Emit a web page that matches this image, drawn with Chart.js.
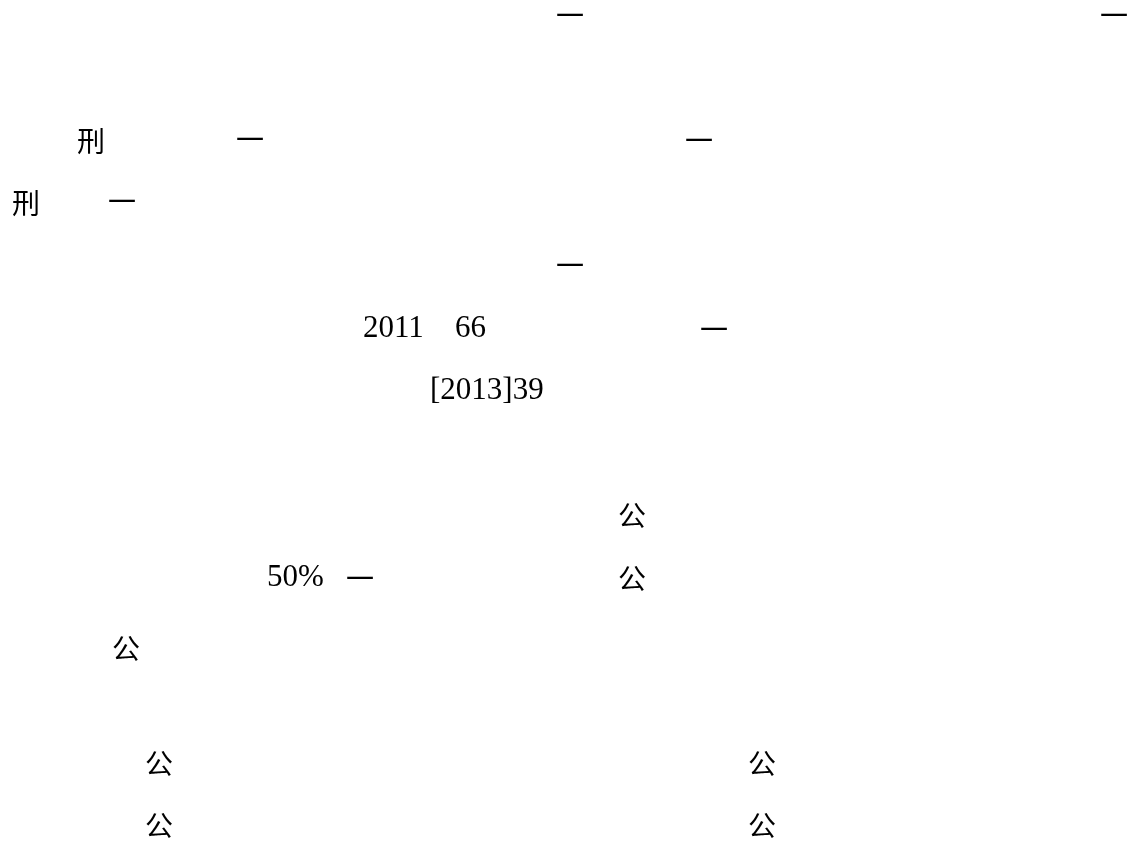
<!DOCTYPE html>
<html>
<head>
<meta charset="utf-8">
<script src="https://cdn.jsdelivr.net/npm/chart.js@4/dist/chart.umd.min.js"></script>
<style>
  html, body { margin: 0; padding: 0; background: #fff; }
  #wrap { width: 1130px; height: 847px; }
</style>
</head>
<body>
<div id="wrap"><canvas id="chartPage"></canvas></div>
<script>
// ================== DATA ================ //
// text fragments on the page, with their column (left edge) and line (middle)
const fragTexts = [
  "一", "一",
  "刑", "一", "一",
  "刑", "一",
  "一",
  "2011", "66", "一",
  "[2013]39",
  "公",
  "50%", "一", "公",
  "公",
  "公", "公",
  "公", "公",
];
const fragCols = [
  556, 1100,
  77, 236, 685,
  12, 108,
  556,
  363, 455, 700,
  430,
  618,
  267, 346, 618,
  112,
  145, 748,
  145, 748,
];
const fragLines = [
  15, 15,
  141, 139, 140,
  203, 201,
  265,
  329, 329, 329,
  391,
  515,
  578, 578, 578,
  648,
  763, 763,
  825, 825,
];

const PAGE_W = 1130;
const PAGE_H = 847;

// ================== TEXT PLUGIN ================ //
const fragLabelPlugin = {
  id: "fragLabels",
  afterDatasetsDraw(chart) {
    const ctx = chart.ctx;
    const meta = chart.getDatasetMeta(0);
    ctx.save();
    ctx.fillStyle = "#000";
    ctx.textAlign = "left";
    ctx.textBaseline = "middle";
    meta.data.forEach((pt, i) => {
      const txt = fragTexts[i];
      const ascii = /^[\x00-\x7f%]+$/.test(txt);
      ctx.font = ascii
        ? "31px 'Liberation Serif', 'DejaVu Serif', serif"
        : "28px 'Noto Sans CJK SC', sans-serif";
      ctx.fillText(txt, pt.x, pt.y);
    });
    ctx.restore();
  },
};

function renderPage() {
  const canvas = document.getElementById("chartPage");
  if (!canvas) return;

  const points = fragTexts.map((t, i) => ({ x: fragCols[i], y: fragLines[i] }));

  new Chart(canvas, {
    type: "scatter",
    data: {
      datasets: [
        {
          data: points,
          pointRadius: 0,
          pointHoverRadius: 0,
        },
      ],
    },
    options: {
      responsive: true,
      maintainAspectRatio: false,
      animation: false,
      layout: { padding: 0 },
      plugins: {
        legend: { display: false },
        tooltip: { enabled: false },
      },
      scales: {
        x: { type: "linear", min: 0, max: PAGE_W, display: false },
        y: { type: "linear", min: 0, max: PAGE_H, reverse: true, display: false },
      },
    },
    plugins: [fragLabelPlugin],
  });
}

renderPage();
</script>
</body>
</html>
